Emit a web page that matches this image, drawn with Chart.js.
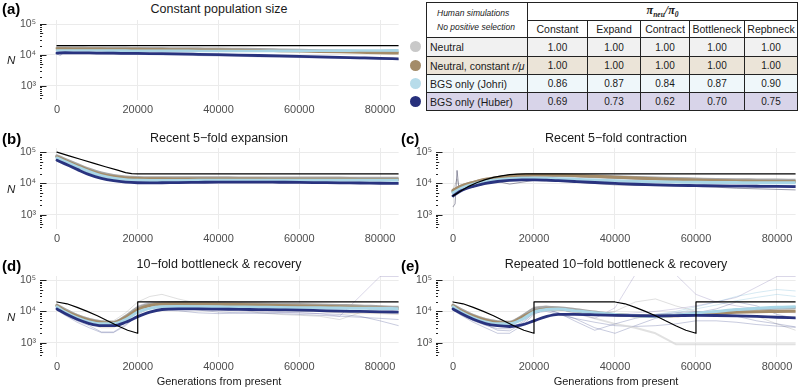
<!DOCTYPE html>
<html><head><meta charset="utf-8">
<script src="https://cdn.jsdelivr.net/npm/chart.js@4.4.1/dist/chart.umd.min.js"></script>
<style>
html,body{margin:0;padding:0;background:#fff}
body{width:800px;height:391px;position:relative;overflow:hidden;font-family:"Liberation Sans",Arial,sans-serif;color:#1a1a1a}
canvas{position:absolute}
.lab{position:absolute;font-weight:bold;font-size:15px;line-height:16px;color:#000}
.ttl{position:absolute;font-size:12.5px;line-height:14px;text-align:center;color:#1a1a1a;white-space:nowrap}
.nlab{position:absolute;font-style:italic;font-size:11.5px;line-height:12px;color:#1a1a1a}
.xt{position:absolute;font-size:11px;line-height:12px;text-align:center;color:#1a1a1a}
#tbl{position:absolute;left:426px;top:2px;border-collapse:collapse;table-layout:fixed;font-size:10px;color:#1a1a1a}
#tbl td{border:1px solid #222;padding:0;text-align:center;white-space:nowrap;overflow:hidden}
#tbl td.nm{text-align:left;padding-left:3px;font-size:10.5px}
#tbl td.hd{text-align:left;padding-left:10px;font-style:italic;font-size:8.5px;line-height:14px;vertical-align:middle}
#tbl td.pi{font-family:"Liberation Serif",serif;font-weight:bold;font-style:italic;font-size:12px}
#tbl td.pi sub{font-size:7.5px}
#tbl tr.ch td{font-size:10.5px}
.dot{position:absolute;width:11px;height:11px;border-radius:50%}
</style>
</head><body>
<script>
// ---------------- DATA ----------------
const G = [0,2000,5000,8000,11000,14000,17000,20000,23000,26000,30000,35000,40000,45000,50000,55000,60000,65000,70000,75000,80000,84600];
const xTickValues = [0,20000,40000,60000,80000];
const yTickValues = [1000,10000,100000];

// (a) constant
const aTruthX = [0,84600];
const aTruthY = [20000,20000];
const aGrey  = [17000,17000,17000,16800,16800,16700,16600,16500,16400,16300,16200,16000,15800,15500,15200,14800,14400,14000,13600,13200,12800,12500];
const aBrown = [16000,16000,15900,15800,15700,15600,15500,15400,15300,15200,15000,14800,14600,14300,14000,13600,13200,12800,12400,12000,11600,11300];
const aLight = [14000,14000,14000,13900,13900,13800,13800,13700,13700,13600,13600,13500,13500,13500,13500,13600,13600,13700,13800,13900,14000,14100];
const aNavy  = [11500,11800,11700,11600,11500,11400,11300,11200,11100,11000,10800,10500,10200,9900,9600,9300,9000,8700,8400,8100,7800,7500];
const aRepNavyX = [0,800,1500,3000,6000,84600];
const aRepNavyY = [11000,9800,11500,11700,11500,7200];

// (b) expansion
const bTruthX = [0,3000,6000,9000,12000,15000,17000,18500,20000,84600];
const bTruthY = [100000,76000,58000,44500,34000,26500,22000,20500,20000,20000];
const bGrey  = [75000,58000,40000,28000,21000,17500,15800,15200,15000,15000,14900,14800,14800,14700,14700,14600,14600,14500,14500,14400,14400,14300];
const bBrown = [70000,54000,37000,26000,19500,16500,15000,14300,14000,14000,13900,13800,13800,13700,13700,13600,13600,13500,13500,13400,13400,13300];
const bLight = [65000,50000,34000,23500,17500,14500,13000,12500,12400,12400,12400,12500,12500,12500,12600,12600,12600,12600,12500,12500,12500,12500];
const bNavy  = [55000,42000,28000,19000,14500,12200,11000,10500,10400,10500,10600,10800,11000,11000,11000,10900,10800,10600,10400,10300,10100,10000];

// (c) contraction
const cTruthX = [0,1000,2000,4000,6000,8000,10000,12000,14000,16000,18000,84600];
const cTruthY = [4000,4800,5800,8200,10700,13200,15500,17500,19000,19700,20000,20000];
const cGrey  = [5500,8000,10500,13000,15000,16800,18000,18500,18500,18300,17800,17000,16000,15200,14600,14000,13600,13200,12900,12700,12500,12400];
const cBrown = [6000,8200,10800,13500,15500,17200,18400,18800,18700,18400,17800,16800,15800,14800,14000,13300,12800,12300,12000,11700,11500,11400];
const cLight = [5000,7000,9500,11500,13000,14000,14600,14700,14500,14200,13600,12800,12100,11600,11200,11000,10800,10700,10600,10500,10500,10500];
const cNavy  = [4000,5800,8000,10000,11500,12500,13000,13000,12700,12200,11500,10700,10000,9400,9000,8700,8500,8300,8200,8100,8000,7900];
const cRepX  = [0,500,1000,1500,2000,5000,11000,14000,20000,30000,40000,50000,60000,70000,84600];
const cRep1Y = [1800,2200,26000,6000,6500,8000,11500,9500,12500,11000,9000,8500,8200,7000,6200];
const cRep2Y = [6500,9000,14000,7500,8500,11000,15000,16000,19000,16000,14000,13000,12500,12000,11000];
const cRep3Y = [3500,4000,5000,5500,6000,9000,12500,13000,13500,12000,10500,9500,9000,8800,8500];

// (d) bottleneck
const dTruthX = [0,2500,5000,7500,10000,12500,15000,17500,20000,20000,84600];
const dTruthY = [20000,17500,13500,10000,7300,5000,3500,2500,2000,20000,20000];
const dGrey  = [16000,11500,7500,5500,4700,4500,7000,13000,17000,18500,19000,18800,18500,18000,17500,17000,16500,16000,15500,15000,14000,13500];
const dBrown = [15000,10500,7000,5200,4400,4300,6500,11500,15500,17000,17500,17200,17000,16500,16000,15500,15000,14500,14000,13500,12800,12300];
const dLight = [14000,9500,6200,4600,4000,4000,5500,9500,12500,14000,14300,14200,14000,13800,13600,13400,13200,13000,12800,12600,12400,12200];
const dNavy  = [12000,8500,5600,4100,3500,3500,4500,6800,9500,11500,12000,12000,11800,11600,11400,11200,11000,10600,10200,10000,9700,9500];
const dRep1 = [11000,7500,4500,3000,2100,2100,3500,8000,13000,14000,13500,11000,9500,9000,8800,8500,8000,7500,7000,6500,6000,5500];
const dRep2 = [14000,10000,6500,5000,4500,4600,7000,15000,20000,18000,15000,12000,11000,10500,10000,9500,9000,8500,7000,30000,130000,130000];
const dRep3 = [16000,12000,8000,6000,5000,5000,9000,20000,30000,35000,25000,18000,15000,12000,9000,8000,7500,7000,5500,9000,15000,14000];
const dRep4 = [12000,8000,5000,3500,2200,2200,3800,7000,10000,11000,10500,9000,8500,8800,9000,9200,9000,8500,8000,7000,5000,3500];
const dRep5 = [15000,10000,6000,4500,3800,3900,6000,12000,16000,17000,16000,15000,14000,13500,13000,12500,12000,12000,11500,11000,10500,10000];
const dRep6 = [13000,9000,5500,4000,3000,3000,5000,10000,15000,16000,15000,13500,12500,12000,11500,11000,10500,10000,9000,8500,8500,8000];

// (e) repeated bottleneck
const eTruthX = [0,2500,5000,7500,10000,12500,15000,17500,20000,20000,40000,42500,45000,47500,50000,52500,55000,57500,60000,60000,84600];
const eTruthY = [20000,17500,13500,10000,7300,5000,3500,2500,2000,20000,20000,17500,13500,10000,7300,5000,3500,2500,2000,20000,20000];
const eGrey  = [16000,11500,7500,5500,4700,4500,7000,12000,13500,13000,11500,9500,8000,7300,7000,7500,8500,9500,11000,12000,12500,13000];
const eBrown = [15000,10500,7000,5200,4400,4300,6500,10000,12000,12000,10500,9000,7800,7200,7000,7200,8000,8800,9400,9800,10000,10200];
const eLight = [14000,9500,6200,4600,4000,4000,5500,9500,11500,12000,10500,9000,8000,7300,7000,7500,8800,10000,11500,12500,13500,14000];
const eNavy  = [12000,8500,5600,4100,3500,3300,3700,5000,6800,8000,8000,7800,7500,7300,7200,7300,7500,7400,7200,6900,6500,6200];
const eRep1 = [11000,7500,4500,3000,2000,2000,3500,8000,12000,9000,5000,2500,4000,6000,8000,9000,10000,9000,7000,5000,4000,3200];
const eRep2 = [13000,9000,6000,4500,3800,4000,6000,12000,14000,12000,9000,6000,13000,150000,400000,150000,35000,20000,15000,12000,10000,9000];
const eRep3 = [15000,11000,7000,5000,4200,4200,6500,13000,14000,12000,9000,6000,4000,3000,2000,900,900,900,900,900,900,900];
const eRep4 = [14000,10000,6500,5000,4300,4300,6500,12000,14000,13000,11000,9000,8000,9000,10000,12000,15000,20000,28000,60000,130000,130000];
const eRep5 = [12000,8000,5000,3600,2800,2800,4500,9000,10000,8000,6000,4500,3500,3300,3500,4000,5000,5000,4500,3800,3400,3100];
const eRep6 = [16000,12000,8000,6000,5000,4800,7000,14000,15000,13000,10000,8000,10000,20000,25000,15000,10000,8000,7500,7000,4000,2500];
const eRep7 = [14000,10000,6500,4800,4100,4100,6000,11000,13000,12500,10000,8500,8000,7500,8000,10000,14000,20000,30000,40000,50000,45000];
const eRep8 = [13500,9500,6000,4500,3900,3900,5500,10000,12000,11500,9500,8500,7500,7000,7500,9000,12000,16000,22000,28000,35000,30000];
const eRep9 = [12500,8500,5200,3800,2500,2400,4000,9000,11000,9000,6000,3000,2000,3500,6000,8000,9000,12000,20000,15000,8000,6000];

// table
const tableCols = ['Constant','Expand','Contract','Bottleneck','Repbneck'];
const rowNames = ['Neutral','Neutral, constant <i>r/μ</i>','BGS only (Johri)','BGS only (Huber)'];
const valNeutral = [1.00,1.00,1.00,1.00,1.00];
const valNeutralConst = [1.00,1.00,1.00,1.00,1.00];
const valJohri = [0.86,0.87,0.84,0.87,0.90];
const valHuber = [0.69,0.73,0.62,0.70,0.75];

// ---------------- STYLE ----------------
const C = {
  grey:'#a8a8a8', brown:'#a48c69', light:'#a9d6e6', navy:'#29337f', truth:'#000000',
  repGrey:'rgba(140,140,140,0.35)', repBrown:'rgba(164,140,105,0.35)', repLight:'rgba(140,195,220,0.45)',
  repNavy:'rgba(41,51,127,0.32)', repLav:'rgba(120,110,170,0.35)'
};
const rowBg = ['#f1f1f1','#ebe4d8','#eff7fa','#d8d4e9'];
const dotCol = ['#c9c9c9','#a48c69','#b7dcea','#27307c'];

function pts(xs, ys){ return xs.map((x,i)=>({x:x, y:ys[i]})); }
function meanDs(ys, col, ord, w){ return {data:pts(G,ys), borderColor:col, borderWidth:w||2.6, order:ord, cubicInterpolationMode:'monotone', pointRadius:0}; }
function repDs(xs, ys, col, w){ return {data:pts(xs,ys), borderColor:col, borderWidth:w||0.8, order:10, tension:0, pointRadius:0}; }
function truthDs(xs, ys){ return {data:pts(xs,ys), borderColor:C.truth, borderWidth:1.2, order:0, tension:0, pointRadius:0}; }

const sup = {'2':'²','3':'³','4':'⁴','5':'⁵'};

const logTicks = {
  id:'logTicks',
  afterDatasetsDraw(chart){
    const ctx = chart.ctx, y = chart.scales.y, a = chart.chartArea;
    ctx.save();
    ctx.strokeStyle = '#222'; ctx.lineWidth = 1;
    for (let k=2;k<=5;k++){
      for (let m=1;m<=9;m++){
        const v = m*Math.pow(10,k);
        if (v < y.min || v > y.max) continue;
        const py = Math.round(y.getPixelForValue(v))+0.5;
        const len = m===1 ? 6.5 : (m===5 ? 3.2 : 2);
        ctx.beginPath(); ctx.moveTo(a.left, py); ctx.lineTo(a.left+len, py); ctx.stroke();
      }
    }
    ctx.restore();
  }
};

function makePanel(cx, cy, cw, ch, padR, datasets){
  const cv = document.createElement('canvas');
  cv.width = cw; cv.height = ch;
  cv.style.left = cx+'px'; cv.style.top = cy+'px';
  cv.style.width = cw+'px'; cv.style.height = ch+'px';
  document.body.appendChild(cv);
  new Chart(cv.getContext('2d'), {
    type:'line',
    data:{datasets:datasets},
    options:{
      responsive:false, animation:false, devicePixelRatio:1,
      layout:{padding:{top:4, right:padR, left:0, bottom:0}},
      plugins:{legend:{display:false}, tooltip:{enabled:false}},
      elements:{line:{borderCapStyle:'round', borderJoinStyle:'round'}},
      scales:{
        x:{type:'linear', min:-4200, max:84600,
           afterBuildTicks(s){ s.ticks = xTickValues.map(v=>({value:v})); },
           afterFit(s){ s.height = 20; s.paddingLeft = 0; s.paddingRight = 0; },
           grid:{color:'#ebebeb', lineWidth:1, drawTicks:false},
           border:{display:false},
           ticks:{padding:3, maxRotation:0, autoSkip:false, color:'#4d4d4d', font:{family:'Liberation Sans', size:11},
                  callback:(v)=>String(v)}},
        y:{type:'logarithmic', min:350, max:135000,
           afterBuildTicks(s){ s.ticks = yTickValues.map(v=>({value:v})); },
           afterFit(s){ s.width = 40; s.paddingTop = 0; s.paddingBottom = 0; },
           grid:{color:'#ebebeb', lineWidth:1, drawTicks:false},
           border:{display:false},
           ticks:{padding:4, autoSkip:false, color:'#4d4d4d', font:{family:'Liberation Sans', size:10.5},
                  callback:(v)=>'10'+sup[String(Math.round(Math.log10(v)))]}}
      }
    },
    plugins:[logTicks]
  });
}

// panel (a)
makePanel(0,16,400,104,1.4,[
  truthDs(aTruthX,aTruthY),
  meanDs(aNavy,C.navy,1,2.8), meanDs(aLight,C.light,2), meanDs(aBrown,C.brown,3), meanDs(aGrey,C.grey,4),
  repDs(aRepNavyX,aRepNavyY,C.repNavy,1.2)
]);
// panel (b)
makePanel(0,144,400,105,1.4,[
  truthDs(bTruthX,bTruthY),
  meanDs(bNavy,C.navy,1,2.8), meanDs(bLight,C.light,2,3), meanDs(bBrown,C.brown,3,3), meanDs(bGrey,C.grey,4,3.5)
]);
// panel (c)
makePanel(396,144,404,105,4.4,[
  truthDs(cTruthX,cTruthY),
  meanDs(cNavy,C.navy,1,2.8), meanDs(cLight,C.light,2,3), meanDs(cBrown,C.brown,3,3), meanDs(cGrey,C.grey,4,3.5),
  repDs(cRepX,cRep1Y,'rgba(60,60,90,0.5)',1), repDs(cRepX,cRep2Y,C.repGrey,1), repDs(cRepX,cRep3Y,C.repNavy,1)
]);
// panel (d)
makePanel(0,272,400,105,1.4,[
  truthDs(dTruthX,dTruthY),
  meanDs(dNavy,C.navy,1,2.8), meanDs(dLight,C.light,2,3), meanDs(dBrown,C.brown,3,3), meanDs(dGrey,C.grey,4,3),
  repDs(G,dRep1,C.repNavy), repDs(G,dRep2,C.repLav), repDs(G,dRep3,C.repGrey), repDs(G,dRep4,C.repNavy),
  repDs(G,dRep5,C.repLight), repDs(G,dRep6,C.repBrown)
]);
// panel (e)
makePanel(396,272,404,105,4.4,[
  truthDs(eTruthX,eTruthY),
  meanDs(eNavy,C.navy,1,2.8), meanDs(eLight,C.light,2,3), meanDs(eBrown,C.brown,3,3), meanDs(eGrey,C.grey,4,3),
  repDs(G,eRep1,C.repNavy), repDs(G,eRep2,C.repLav), repDs(G,eRep3,'rgba(215,215,215,0.75)',2), repDs(G,eRep4,C.repLav),
  repDs(G,eRep5,C.repNavy), repDs(G,eRep6,C.repGrey), repDs(G,eRep7,C.repLight), repDs(G,eRep8,C.repLight), repDs(G,eRep9,C.repNavy)
]);

// ---------------- TEXT ----------------
function addDiv(cls, html, style){
  const d = document.createElement('div'); d.className = cls; d.innerHTML = html;
  Object.assign(d.style, style); document.body.appendChild(d); return d;
}
addDiv('lab','(a)',{left:'2px',top:'1px'});
addDiv('lab','(b)',{left:'2px',top:'131px'});
addDiv('lab','(c)',{left:'401px',top:'131px'});
addDiv('lab','(d)',{left:'2px',top:'258px'});
addDiv('lab','(e)',{left:'401px',top:'258px'});
addDiv('ttl','Constant population size',{left:'119px',width:'200px',top:'2px'});
addDiv('ttl','Recent 5−fold expansion',{left:'119px',width:'200px',top:'131px'});
addDiv('ttl','Recent 5−fold contraction',{left:'516px',width:'200px',top:'131px'});
addDiv('ttl','10−fold bottleneck &amp; recovery',{left:'94px',width:'250px',top:'257px'});
addDiv('ttl','Repeated 10−fold bottleneck &amp; recovery',{left:'491px',width:'250px',top:'257px'});
addDiv('nlab','N',{left:'7px',top:'54px'});
addDiv('nlab','N',{left:'7px',top:'183px'});
addDiv('nlab','N',{left:'7px',top:'311px'});
addDiv('xt','Generations from present',{left:'119px',width:'200px',top:'375px'});
addDiv('xt','Generations from present',{left:'516px',width:'200px',top:'375px'});

// ---------------- TABLE ----------------
const allVals = [valNeutral, valNeutralConst, valJohri, valHuber];
let h = '<colgroup><col style="width:101px"><col style="width:60px"><col style="width:53px"><col style="width:49px"><col style="width:55px"><col style="width:53px"></colgroup>';
h += '<tr style="height:18px"><td rowspan="2" class="hd">Human simulations<br>No positive selection</td><td colspan="5" class="pi">π<sub>neu</sub>/π<sub>0</sub></td></tr>';
h += '<tr class="ch" style="height:17px">' + tableCols.map(c=>'<td>'+c+'</td>').join('') + '</tr>';
const rh = [19,18,18,18];
rowNames.forEach((n,i)=>{
  h += '<tr style="height:'+rh[i]+'px;background:'+rowBg[i]+'"><td class="nm">'+n+'</td>' + allVals[i].map(v=>'<td>'+v.toFixed(2)+'</td>').join('') + '</tr>';
});
const t = document.createElement('table'); t.id = 'tbl'; t.innerHTML = h; document.body.appendChild(t);
const dotY = [46.5, 65, 83, 101];
dotY.forEach((y,i)=>{ addDiv('dot','',{left:'410px',top:(y-5.5)+'px',background:dotCol[i]}); });
</script>
</body></html>
